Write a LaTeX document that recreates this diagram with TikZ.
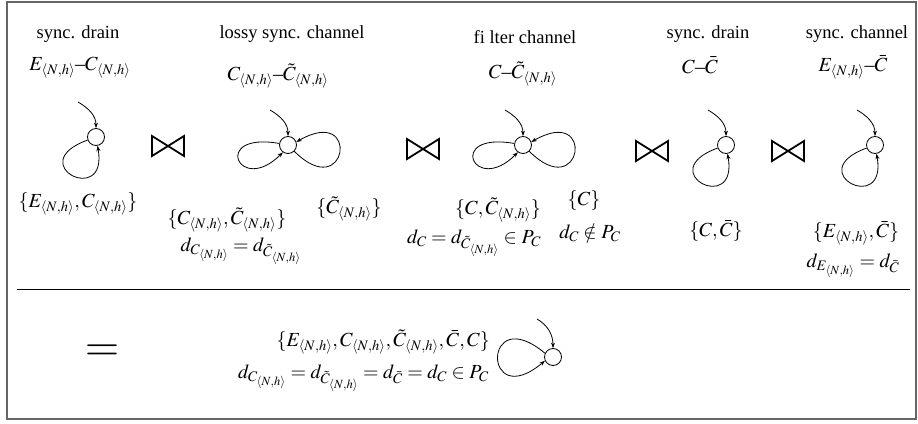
\documentclass[tikz,border=0pt]{standalone}
\usepackage{mathptmx}
\usepackage{fontspec}
\setmainfont{Liberation Serif}
\usetikzlibrary{arrows.meta,calc}
\DeclareMathSizes{20}{20}{14.5}{12.5}
\newcommand{\Nh}{\langle N,h\rangle}
\begin{document}
\begin{tikzpicture}[x=1pt,y=1pt,
  every node/.style={font=\fontsize{18.5}{22}\selectfont, inner sep=0pt},
  mathlabel/.style={font=\fontsize{20}{24}\selectfont},
  port/.style={circle, draw, line width=0.8pt, minimum size=17pt},
  arr/.style={line width=0.8pt, -{Stealth[length=5.5pt,width=4pt]}},
  bowtiepath/.style={line width=1.8pt, line join=miter},
  frame/.style={draw=black!60, line width=1.5pt},
  rule/.style={line width=1pt}
]
\useasboundingbox (0,0) rectangle (918,-423);
\draw[frame] (7,-2) rectangle (916,-419);
\coordinate (r1) at (17,-289);
\coordinate (r2) at (910,-289);
\draw[rule] (r1) -- (r2);

% titles
\node (t1) at (78,-34) {sync. drain};
\node[mathlabel] (m1) at (80,-68) {$E_{\Nh}$--$C_{\Nh}$};
\node (t2) at (292,-34) {lossy sync. channel};
\node[mathlabel] (m2) at (278,-76) {$C_{\Nh}$--$\tilde{C}_{\Nh}$};
\node (t3) at (525,-37) {fi lter channel};
\node[mathlabel] (m3) at (523,-74) {$C$--$\tilde{C}_{\Nh}$};
\node (t4) at (708,-34) {sync. drain};
\node[mathlabel] (m4) at (700,-65) {$C$--$\bar{C}$};
\node (t5) at (857,-34) {sync. channel};
\node[mathlabel] (m5) at (853,-67) {$E_{\Nh}$--$\bar{C}$};

% ports
\node[port] (c1) at (96,-137) {};
\node[port] (c2) at (288,-145) {};
\node[port] (c3) at (523,-145) {};
\node[port] (c4) at (726,-145) {};
\node[port] (c5) at (875,-145) {};
\node[port] (c6) at (553,-357) {};

\coordinate (s1) at (78,-102);
\coordinate (s2) at (270,-110);
\coordinate (s3) at (505,-110);
\coordinate (s4) at (708,-110);
\coordinate (s5) at (857,-110);
\coordinate (s6) at (537,-319);
\foreach \i in {1,...,6}{
  \draw[arr] (s\i) to[out=-30,in=90] (c\i.north);
}
% drains (single loop below)
\foreach \i in {1,4,5}{
  \draw[arr] (c\i.200) to[out=200,in=280,out distance=70pt,in distance=63pt] (c\i.280);
}
% double loops
\foreach \i in {2,3}{
  \draw[arr] (c\i.170) to[out=170,in=225,out distance=70pt,in distance=62pt] (c\i.235);
  \draw[arr] (c\i.-45) to[out=-45,in=30,out distance=75pt,in distance=75pt] (c\i.20);
}
% result loop
\draw[arr] (c6.155) to[out=140,in=220,distance=82pt] (c6.205);

% bowties
\foreach \n/\x/\y in {b1/168/-146, b2/423/-149, b3/652/-151, b4/788/-151}{
  \coordinate (\n) at (\x,\y);
  \draw[bowtiepath] ($(\n)+(-16,10)$) -- ($(\n)+(16,-10)$) -- ($(\n)+(16,10)$) -- ($(\n)+(-16,-10)$) -- cycle;
}

% labels
\begin{scope}[every node/.append style={mathlabel}]
\node (l1) at (78,-204) {$\{E_{\Nh},C_{\Nh}\}$};
\node (l2a) at (227,-220) {$\{C_{\Nh},\tilde{C}_{\Nh}\}$};
\node (l2b) at (241,-251) {$d_{C_{\Nh}}=d_{\tilde{C}_{\Nh}}$};
\node (l2c) at (349,-209) {$\{\tilde{C}_{\Nh}\}$};
\node (l3a) at (498,-210) {$\{C,\tilde{C}_{\Nh}\}$};
\node (l3b) at (474,-243) {$d_C=d_{\tilde{C}_{\Nh}}\in P_C$};
\node (l3c) at (584,-201) {$\{C\}$};
\node (l3d) at (590,-233) {$d_C\notin P_C$};
\node (l4) at (716,-231) {$\{C,\bar{C}\}$};
\node (l5a) at (856,-233) {$\{E_{\Nh},\bar{C}\}$};
\node (l5b) at (853,-266) {$d_{E_{\Nh}}=d_{\bar{C}}$};

% result
\node[anchor=east] (r1t) at (490,-342) {$\{E_{\Nh},C_{\Nh},\tilde{C}_{\Nh},\bar{C},C\}$};
\node[anchor=east] (r2t) at (489,-378) {$d_{C_{\Nh}}=d_{\tilde{C}_{\Nh}}=d_{\bar{C}}=d_C\in P_C$};
\end{scope}
\node (eq) at (102,-353) {\scalebox{2.4}[2.3]{$=$}};
\end{tikzpicture}
\end{document}
